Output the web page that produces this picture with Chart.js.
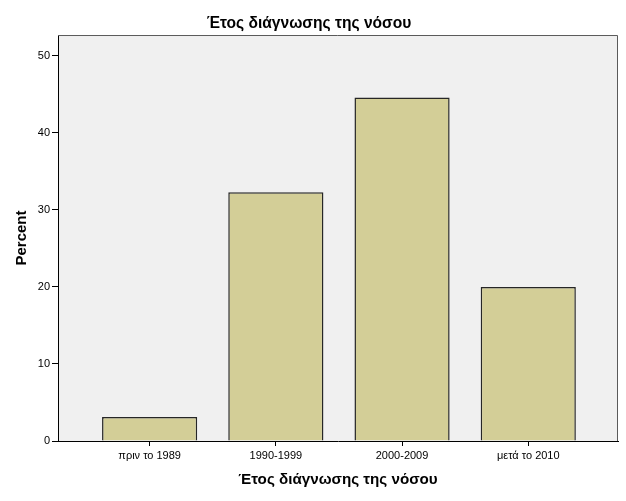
<!DOCTYPE html>
<html>
<head>
<meta charset="utf-8">
<script src="https://cdn.jsdelivr.net/npm/chart.js@4"></script>
<style>
html,body{margin:0;padding:0;background:#fff;}
#wrap{width:626px;height:501px;}
</style>
</head>
<body>
<div id="wrap"><canvas id="c" width="626" height="501"></canvas></div>
<script>
const categories = ['πριν το 1989', '1990-1999', '2000-2009', 'μετά το 2010'];
const percentValues = [3.1, 32.3, 44.6, 20.0];
const yTicks = [0, 10, 20, 30, 40, 50];
const chartTitle = 'Έτος διάγνωσης της νόσου';
const xTitle = 'Έτος διάγνωσης της νόσου';
const yTitle = 'Percent';

const FONT = '"Liberation Sans", Arial, sans-serif';

const plotBg = {
  id: 'plotBg',
  beforeDraw(chart) {
    const {ctx, chartArea: a} = chart;
    ctx.save();
    ctx.fillStyle = '#F0F0F0';
    ctx.fillRect(a.left, a.top, a.right - a.left, a.bottom - a.top);
    ctx.restore();
  },
  afterDraw(chart) {
    const {ctx, chartArea: a} = chart;
    ctx.save();
    ctx.strokeStyle = '#5a5a5a';
    ctx.lineWidth = 1;
    ctx.beginPath();
    ctx.moveTo(a.left, a.top + 0.5);
    ctx.lineTo(a.right - 0.5, a.top + 0.5);
    ctx.lineTo(a.right - 0.5, a.bottom);
    ctx.stroke();
    ctx.restore();
  }
};

new Chart(document.getElementById('c'), {
  type: 'bar',
  data: {
    labels: categories,
    datasets: [{
      data: percentValues,
      backgroundColor: '#D3CE97',
      borderColor: '#262626',
      borderWidth: 1.5,
      categoryPercentage: 1,
      barPercentage: 0.754
    }]
  },
  options: {
    responsive: false,
    animation: false,
    devicePixelRatio: 1,
    layout: {padding: {left: 0, right: 8, top: 0, bottom: 0}},
    plugins: {
      legend: {display: false},
      tooltip: {enabled: false},
      title: {
        display: true,
        text: chartTitle,
        color: '#000',
        font: {family: FONT, size: 15.6, weight: 'bold'},
        padding: {top: 14.4, bottom: 1.9}
      }
    },
    scales: {
      x: {
        type: 'category',
        offset: true,
        afterBuildTicks(scale) {
          scale._startValue = -0.726;
          scale._valueRange = 4.437;
        },
        afterFit(scale) { scale.height = 60; },
        grid: {display: true, drawOnChartArea: false, offset: false, tickLength: 5, color: '#000', tickColor: '#000'},
        border: {display: true, color: '#000', width: 1},
        ticks: {color: '#000', font: {family: FONT, size: 11}, padding: 3, maxRotation: 0, autoSkip: false},
        title: {
          display: true,
          text: xTitle,
          color: '#000',
          font: {family: FONT, size: 15.2, weight: 'bold'},
          padding: {top: 0, bottom: 12}
        }
      },
      y: {
        min: 0,
        max: 52.7,
        afterFit(scale) { scale.width = 58; },
        afterBuildTicks(scale) { scale.ticks = yTicks.map(v => ({value: v})); },
        grid: {display: true, drawOnChartArea: false, tickLength: 6, color: '#000', tickColor: '#000'},
        border: {display: true, color: '#000', width: 1},
        ticks: {color: '#000', font: {family: FONT, size: 11}, padding: 2, includeBounds: false, stepSize: 10},
        title: {
          display: true,
          text: yTitle,
          color: '#000',
          font: {family: FONT, size: 15, weight: 'bold'},
          padding: {top: 12.4, bottom: 0}
        }
      }
    }
  },
  plugins: [plotBg]
});
</script>
</body>
</html>
